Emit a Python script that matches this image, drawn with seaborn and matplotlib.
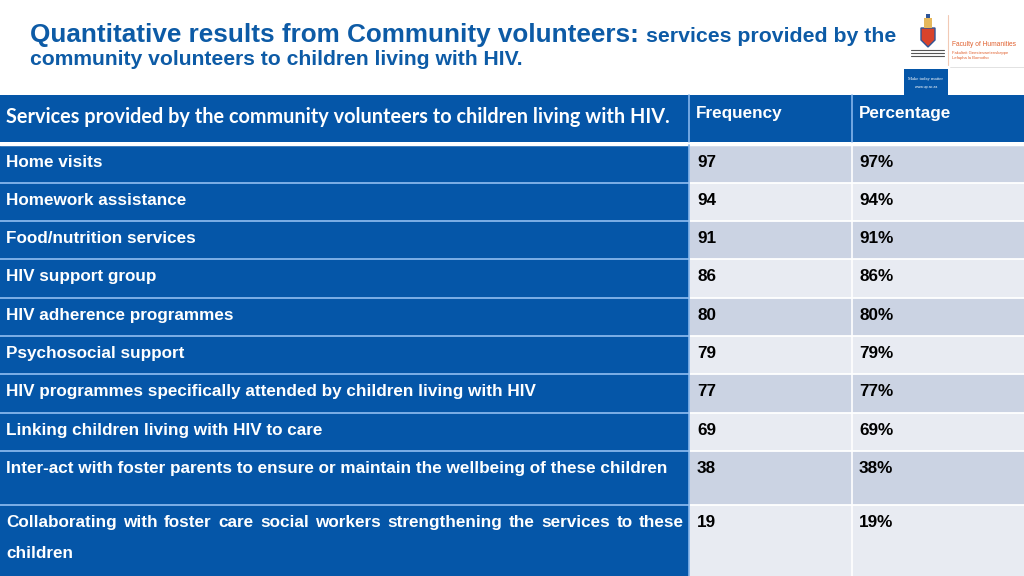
import numpy as np
import pandas as pd
import seaborn as sns
import matplotlib.pyplot as plt
from matplotlib.patches import Rectangle, Polygon

# table content
header = ["Services provided by the community volunteers to children living with HIV.",
          "Frequency", "Percentage"]
services = [
    "Home visits",
    "Homework assistance",
    "Food/nutrition services",
    "HIV support group",
    "HIV adherence programmes",
    "Psychosocial support",
    "HIV programmes specifically attended by children living with HIV",
    "Linking children living with HIV to care",
    "Inter-act with foster parents to ensure or maintain the wellbeing of these children",
    "Collaborating with foster care social workers strengthening the services to these children",
]
frequency = [97, 94, 91, 86, 80, 79, 77, 69, 38, 19]
percentage = [97, 94, 91, 86, 80, 79, 77, 69, 38, 19]

sns.set_theme(style="white")
plt.rcParams['font.family'] = ['Liberation Sans', 'DejaVu Sans']

BLUE = "#0556A8"
TITLE_BLUE = "#0D5BA6"
LINE_BLUE = "#86B6EC"
CELL_DARK = "#CBD3E3"
CELL_LIGHT = "#E8EBF2"
FS = 12.3

df = pd.DataFrame({"service": services, "freq": frequency, "pct": percentage})

fig = plt.figure(figsize=(10.24, 5.76), dpi=100)
ax = fig.add_axes([0, 0, 1, 1])
ax.set_xlim(0, 1024)
ax.set_ylim(576, 0)
ax.axis("off")
renderer = fig.canvas.get_renderer()


def width_of(t):
    return t.get_window_extent(renderer=renderer).width


def fit(t, target):
    # scale font so the text spans the target width in pixels
    t.set_fontsize(t.get_fontsize() * target / width_of(t))
    return t


# ---- title ----
narrow = ['Liberation Sans Narrow', 'Liberation Sans', 'DejaVu Sans']
t1 = ax.text(30, 42, "Quantitative results from Community volunteers:", family=narrow,
             fontweight="bold", color=TITLE_BLUE, fontsize=18, va="baseline")
fit(t1, 608)
t2 = ax.text(646, 42, "services provided by the", family=narrow,
             fontweight="bold", color=TITLE_BLUE, fontsize=14, va="baseline")
fit(t2, 249)
t3 = ax.text(30, 65, "community volunteers to children living with HIV.", family=narrow,
             fontweight="bold", color=TITLE_BLUE, fontsize=14, va="baseline")
fit(t3, 496)

# ---- logo ----
shield = Polygon([(921, 28), (935, 28), (935, 40), (928, 47), (921, 40)], closed=True,
                 facecolor="#D9432B", edgecolor="#2F5597", lw=1)
ax.add_patch(shield)
ax.add_patch(Rectangle((924, 18), 8, 10, facecolor="#E6B85C", edgecolor="none"))
ax.add_patch(Rectangle((926, 14), 4, 4, facecolor="#2F5597", edgecolor="none"))
for yy in [50, 53, 56]:
    ax.plot([911, 944], [yy, yy], color="#555555", lw=0.8)
ax.plot([948, 948], [15, 65], color="#F2C9B5", lw=0.8)
fl = ax.text(952, 44, "Faculty of Humanities", color="#E0602E", fontsize=5.6,
             family=narrow, va="center")
fit(fl, 64)
ax.text(952, 53, "Fakulteit Geesteswetenskappe", color="#E0602E", fontsize=3.0, va="center")
ax.text(952, 58, "Lefapha la Bomotho", color="#E0602E", fontsize=3.0, va="center")
ax.plot([950, 1024], [67, 67], color="#DDDDDD", lw=0.6)
ax.add_patch(Rectangle((904, 69), 44, 27, facecolor=BLUE, edgecolor="none"))
ax.text(926, 79, "Make today matter", color="white", fontsize=3.3, ha="center",
        va="center", family="Liberation Serif")
ax.text(926, 87, "www.up.ac.za", color="white", fontsize=2.6, ha="center", va="center")

# ---- table layout ----
col_edges = [0, 689, 852, 1024]
header_top, header_bottom = 95, 142
row_heights = [38, 38, 38, 39, 38, 38, 39, 38, 54, 71]
row_tops = 145 + np.concatenate([[0], np.cumsum(row_heights)[:-1]])

# header row
ax.add_patch(Rectangle((0, header_top), 1024, header_bottom - header_top,
                       facecolor=BLUE, edgecolor="none"))
h0 = ax.text(6, 123, header[0], family=['Lato', 'Open Sans', 'DejaVu Sans'],
             fontweight="bold", color="white", fontsize=13, va="baseline")
fit(h0, 661)
ax.text(696, 118, header[1], fontweight="bold", color="white", fontsize=FS, va="baseline")
ax.text(859, 118, header[2], fontweight="bold", color="white", fontsize=FS, va="baseline")
for xe in col_edges[1:3]:
    ax.plot([xe, xe], [header_top, header_bottom], color=LINE_BLUE, lw=1.2)
ax.plot([0, 1024], [143.5, 143.5], color="white", lw=2.5)

# body rows
for i, row in df.iterrows():
    top = row_tops[i]
    h = row_heights[i]
    shade = CELL_DARK if i % 2 == 0 else CELL_LIGHT
    ax.add_patch(Rectangle((col_edges[0], top), col_edges[1], h,
                           facecolor=BLUE, edgecolor="none"))
    ax.add_patch(Rectangle((col_edges[1], top), col_edges[3] - col_edges[1], h,
                           facecolor=shade, edgecolor="none"))
    ty = top + 22
    if i == len(df) - 1:
        # justified first line, last word wraps
        words = row["service"].split()
        first, rest = words[:-1], words[-1]
        objs = [ax.text(0, ty, w, fontweight="bold", color="white", fontsize=FS,
                        va="baseline") for w in first]
        widths = [width_of(o) for o in objs]
        gap = (684 - 6 - sum(widths)) / (len(first) - 1)
        x = 6
        for o, w in zip(objs, widths):
            o.set_x(x)
            x += w + gap
        ax.text(6, ty + 31, rest, fontweight="bold", color="white",
                fontsize=FS, va="baseline")
    else:
        ax.text(6, ty, row["service"], fontweight="bold", color="white",
                fontsize=FS, va="baseline")
    ax.text(697, ty, str(row["freq"]), fontweight="bold", color="black",
            fontsize=FS, va="baseline")
    ax.text(859, ty, f"{row['pct']}%", fontweight="bold", color="black",
            fontsize=FS, va="baseline")

# grid lines
for top in row_tops[1:]:
    ax.plot([0, 689], [top, top], color=LINE_BLUE, lw=1.3)
    ax.plot([689, 1024], [top, top], color="white", lw=1.3)
ax.plot([689, 689], [145, 576], color=LINE_BLUE, lw=1.2)
ax.plot([852, 852], [145, 576], color="white", lw=1.2)

fig.savefig("out.png", dpi=100)
